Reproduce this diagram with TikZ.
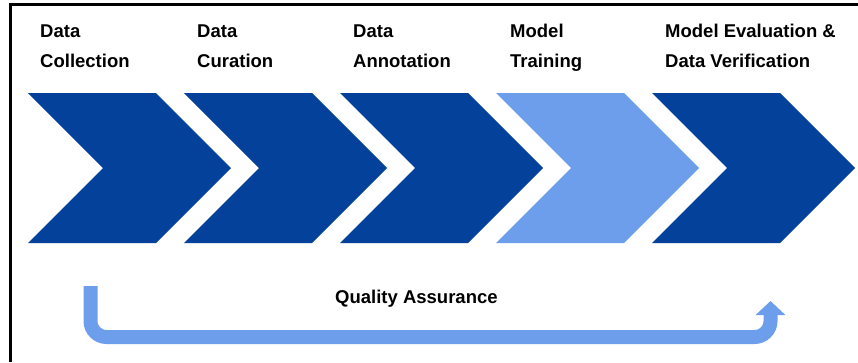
\documentclass[tikz,border=0pt]{standalone}
\usepackage{fontspec}
\setmainfont{Liberation Sans}
\usepackage{xcolor}
\usetikzlibrary{arrows.meta, positioning}

\definecolor{darkblue}{RGB}{4,65,154}
\definecolor{lightblue}{RGB}{109,158,235}

\tikzset{
    stage/.style={anchor=base west, align=left, inner sep=0pt,
        font=\fontsize{18.5}{30}\selectfont\bfseries},
    qaarrow/.style={draw=lightblue, line width=14pt, rounded corners=16pt,
        -{Triangle[width=29pt,length=14pt]}}
}

\begin{document}
\begin{tikzpicture}[x=1pt, y=-1pt]
    \useasboundingbox (0,0) rectangle (858,362);

    % Draw frame lines
    \draw[line width=2.5pt] (10.5,362) -- (10.5,4.5) -- (858,4.5);

    % Draw chevrons
    \foreach \s/\col in {28/darkblue, 184/darkblue, 340/darkblue, 496/lightblue, 652/darkblue}
        \fill[\col] (\s,93) -- (\s+128,93) -- (\s+203,168) -- (\s+128,243)
            -- (\s,243) -- (\s+75,168) -- cycle;

    % Add stage labels (base anchor sits on the second line)
    \node[stage] (collect) at (40,67) {Data\\Collection};
    \node[stage] (curate) at (197,67) {Data\\Curation};
    \node[stage] (annotate) at (353,67) {Data\\Annotation};
    \node[stage] (train) at (510,67) {Model\\Training};
    \node[stage] (evaluate) at (665,67) {Model Evaluation \&\\Data Verification};

    % Draw feedback arrow
    \coordinate (qa-start) at (90.5,286);
    \coordinate (qa-end) at (770.5,301);
    \draw[qaarrow] (qa-start) |- (770.5,337) -- (qa-end);
    \node[stage] (quality) at (335,303) {Quality Assurance};
\end{tikzpicture}
\end{document}
